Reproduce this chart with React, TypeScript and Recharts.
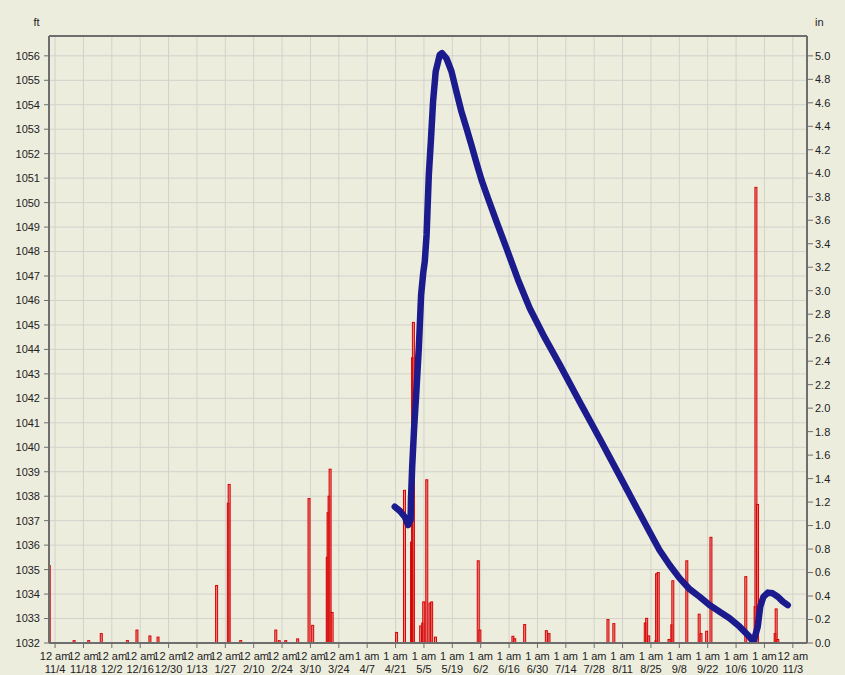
import { ComposedChart, Line, Bar, XAxis, YAxis, CartesianGrid, ReferenceLine } from 'recharts';

// days counted from 11/4 12 am
const levelDays = [
  167.6, 170.1, 172.6, 174.2, 175.4, 175.6, 176.2, 177.1, 178.3, 179.5,
  180.6, 181.7, 182.4, 183.3, 184.4, 185.4, 186.5, 187.8, 189.8, 190.9,
  193.1, 195.6, 198.0, 200.5, 203.0, 205.4, 208.2, 210.4, 213.6, 217.8,
  222.7, 228.4, 234.2, 241.6, 249.0, 258.8, 268.7, 278.5, 288.4, 293.3,
  298.2, 303.2, 308.1, 313.1, 318.0, 322.9, 327.9, 332.8, 337.7, 341.8,
  344.6, 346.7, 347.9, 349.5, 351.7, 354.1, 356.6, 359.1, 361.5,
];
const levelFt = [
  1037.57, 1037.40, 1037.15, 1036.82, 1037.03, 1037.85, 1039.21, 1040.71, 1042.34, 1044.11,
  1046.23, 1047.17, 1047.58, 1048.68, 1051.13, 1052.5, 1054.13, 1055.36, 1056.04, 1056.11,
  1055.9, 1055.36, 1054.54, 1053.72, 1053.04, 1052.36, 1051.54, 1050.93, 1050.18, 1049.22,
  1048.14, 1046.85, 1045.68, 1044.48, 1043.38, 1041.86, 1040.36, 1038.84, 1037.30, 1036.55,
  1035.80, 1035.19, 1034.65, 1034.20, 1033.89, 1033.55, 1033.28, 1033.01, 1032.67, 1032.33,
  1032.05, 1032.67, 1033.48, 1033.89, 1034.06, 1034.03, 1033.89, 1033.69, 1033.55,
];

const rainDays = [
  -2.9, 9.4, 16.6, 22.8, 35.7, 40.4, 46.8, 50.8, 79.7, 85.5,
  85.9, 91.6, 108.9, 110.6, 113.8, 119.7, 125.3, 127.1, 134.3, 134.7,
  135.2, 135.7, 136.7, 168.5, 172.4, 175.9, 176.4, 176.8, 180.4, 181.4,
  181.9, 183.4, 185.0, 185.8, 187.7, 208.8, 209.6, 225.9, 226.8, 231.7,
  242.4, 243.7, 272.8, 275.7, 291.2, 291.9, 292.9, 296.5, 296.8, 297.6,
  302.9, 304.3, 304.8, 311.7, 317.8, 318.7, 321.5, 323.6, 340.8, 345.4,
  345.8, 346.6, 355.3, 355.8, 356.6,
];
const rainIn = [
  0.66, 0.02, 0.02, 0.08, 0.02, 0.11, 0.06, 0.05, 0.49, 1.19,
  1.35, 0.02, 0.11, 0.02, 0.02, 0.035, 1.23, 0.15, 0.73, 1.11,
  1.25, 1.48, 0.26, 0.09, 1.30, 0.86, 2.43, 2.73, 0.145, 0.17,
  0.35, 1.39, 0.34, 0.35, 0.05, 0.70, 0.11, 0.057, 0.036, 0.157,
  0.105, 0.08, 0.20, 0.165, 0.17, 0.21, 0.06, 0.02, 0.59, 0.60,
  0.03, 0.155, 0.53, 0.70, 0.245, 0.08, 0.10, 0.90, 0.565, 0.31,
  3.88, 1.18, 0.08, 0.29, 0.03,
];

const tickDays = [
  0, 14, 28, 42, 56, 70, 84, 98, 112, 126, 140, 154, 168, 182,
  196, 210, 224, 238, 252, 266, 280, 294, 308, 322, 336, 350, 364,
];
const tickTimes = [
  '12 am', '12 am', '12 am', '12 am', '12 am', '12 am', '12 am', '12 am', '12 am', '12 am', '12 am',
  '1 am', '1 am', '1 am', '1 am', '1 am', '1 am', '1 am', '1 am', '1 am', '1 am', '1 am', '1 am',
  '1 am', '1 am', '1 am', '12 am',
];
const tickDates = [
  '11/4', '11/18', '12/2', '12/16', '12/30', '1/13', '1/27', '2/10', '2/24', '3/10', '3/24',
  '4/7', '4/21', '5/5', '5/19', '6/2', '6/16', '6/30', '7/14', '7/28', '8/11', '8/25', '9/8',
  '9/22', '10/6', '10/20', '11/3',
];

const ftTicks = [
  1032, 1033, 1034, 1035, 1036, 1037, 1038, 1039, 1040, 1041, 1042, 1043, 1044,
  1045, 1046, 1047, 1048, 1049, 1050, 1051, 1052, 1053, 1054, 1055, 1056,
];
const inTicks = [
  0, 0.2, 0.4, 0.6, 0.8, 1.0, 1.2, 1.4, 1.6, 1.8, 2.0, 2.2, 2.4,
  2.6, 2.8, 3.0, 3.2, 3.4, 3.6, 3.8, 4.0, 4.2, 4.4, 4.6, 4.8, 5.0,
];

const ftTop = 1056.81;
const inTop = 5.169;

const rows = [
  ...levelDays.map((d, i) => ({ day: d, level: levelFt[i] })),
  ...rainDays.map((d, i) => ({ day: d, rain: rainIn[i] })),
].sort((a, b) => a.day - b.day);

const axisColor = '#6e6e6e';
const textStyle = { fontSize: 11, fill: '#222' };

const DateTick = (props: any) => {
  const { x, y, payload } = props;
  const i = tickDays.indexOf(payload.value);
  return (
    <text x={x} y={y} textAnchor="middle" fontSize={11} fill="#222">
      <tspan x={x} dy={10}>{tickTimes[i]}</tspan>
      <tspan x={x} dy={12.5}>{tickDates[i]}</tspan>
    </text>
  );
};

const RainBar = (props: any) => {
  const { x, y, width, height } = props;
  if (!(height > 0)) return null;
  const cx = x + width / 2;
  return (
    <rect
      x={cx - 1}
      y={y}
      width={2}
      height={height}
      fill="#e46a6a"
      fillOpacity={0.75}
      stroke="#d80000"
      strokeWidth={1}
    />
  );
};

export default function App() {
  return (
    <div
      style={{
        position: 'absolute',
        left: 0,
        top: 0,
        width: 845,
        height: 675,
        background: '#EDEDDE',
        fontFamily: '"Liberation Sans", Arial, sans-serif',
      }}
    >
      <ComposedChart
        width={845}
        height={675}
        data={rows}
        margin={{ top: 36, right: 0, bottom: 0, left: 0 }}
      >
        <CartesianGrid stroke="#d2d2cc" strokeWidth={1} yAxisId="ft" />
        <XAxis
          dataKey="day"
          type="number"
          domain={[-3, 371]}
          ticks={tickDays}
          allowDataOverflow
          height={32}
          tickSize={5}
          tickMargin={2}
          tick={<DateTick />}
          interval={0}
          axisLine={{ stroke: axisColor, strokeWidth: 2 }}
          tickLine={{ stroke: axisColor }}
        />
        <YAxis
          yAxisId="ft"
          orientation="left"
          type="number"
          domain={[1032, ftTop]}
          ticks={ftTicks}
          allowDataOverflow
          width={49}
          tickSize={5}
          tickMargin={4}
          interval={0}
          tick={textStyle}
          axisLine={{ stroke: axisColor, strokeWidth: 2 }}
          tickLine={{ stroke: axisColor }}
          label={{
            content: ({ viewBox }: any) => (
              <text x={viewBox.x + viewBox.width - 12.5} y={viewBox.y - 10.5} textAnchor="middle" fontSize={11} fill="#222">
                ft
              </text>
            ),
          }}
        />
        <YAxis
          yAxisId="in"
          orientation="right"
          type="number"
          domain={[0, inTop]}
          ticks={inTicks}
          allowDataOverflow
          width={38}
          tickSize={6}
          tickMargin={2}
          interval={0}
          tick={textStyle}
          tickFormatter={(v: number) => v.toFixed(1)}
          axisLine={{ stroke: axisColor, strokeWidth: 2 }}
          tickLine={{ stroke: axisColor }}
          label={{
            content: ({ viewBox }: any) => (
              <text x={viewBox.x + 8} y={viewBox.y - 10} textAnchor="start" fontSize={11} fill="#222">
                in
              </text>
            ),
          }}
        />
        <ReferenceLine yAxisId="ft" y={ftTop} stroke={axisColor} strokeWidth={2} />
        <Line
          yAxisId="ft"
          type="linear"
          dataKey="level"
          stroke="#1b1b8e"
          strokeWidth={6.5}
          strokeLinecap="round"
          strokeLinejoin="round"
          dot={false}
          connectNulls
          isAnimationActive={false}
        />
        <Bar
          yAxisId="in"
          dataKey="rain"
          barSize={2}
          shape={RainBar}
          isAnimationActive={false}
        />
      </ComposedChart>
    </div>
  );
}
